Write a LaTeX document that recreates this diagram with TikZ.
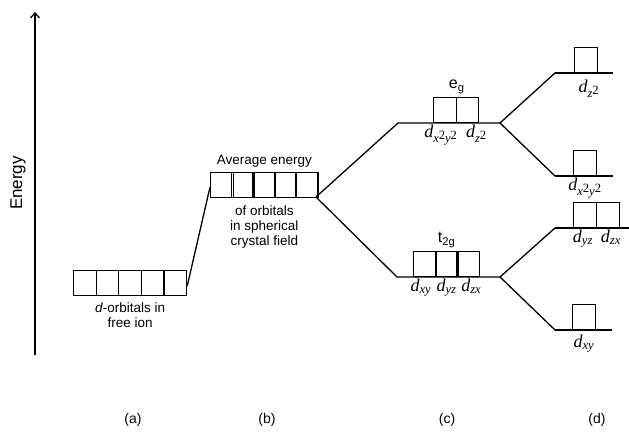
\documentclass[tikz,border=0pt]{standalone}
\usepackage{fontspec}
\setmainfont{Liberation Sans}
\newfontfamily\dfont{Liberation Serif}
\usepackage{tikz}
\usetikzlibrary{arrows.meta,positioning}
\newcommand\dorb[1]{{\dfont\itshape d\textsubscript{#1}}}
\newcommand\tw{\raisebox{2.5pt}{\upshape 2}}

\begin{document}
\begin{tikzpicture}[
      x=1pt, y=-1pt, line width=1.3pt,
      orb/.style={draw, line width=1.2pt, minimum width=22.6pt, minimum height=24.5pt,
        inner sep=0pt, anchor=south west},
      lvl/.style={line width=1.3pt},
      txt/.style={font=\fontsize{13.5}{15}\selectfont, align=center, inner sep=1pt},
      sub/.style={font=\fontsize{18}{19}\selectfont, inner sep=1pt},
      tag/.style={font=\fontsize{14}{15}\selectfont},
      sym/.style={font=\fontsize{16}{17}\selectfont, inner sep=1pt},
    ]
    \useasboundingbox (0,0) rectangle (629,435);
    % energy axis
    \coordinate (axb) at (35,355);
    \coordinate (axt) at (35,12);
    \draw[-{Straight Barb[length=5pt,width=9pt]}, line width=1.3pt] (axb) -- (axt);
    \node[font=\fontsize{17}{18}\selectfont, rotate=90] (energy) at (18,183) {Energy};
    % (a) free ion
    \foreach \i in {1,...,5}
      \node[orb] (a\i) at ({73+(\i-1)*22.6},296) {};
    \node[txt, below=5pt of a3] (alab) {\textit{d}-orbitals in\\free ion};
    % (b) spherical field
    \foreach \i in {1,...,5}
      \node[orb] (b\i) at ({210+(\i-1)*21.2},198) {};
    \node[txt, above=3pt of b3] (blab) {Average energy};
    \node[txt, below=6pt of b3] (blab2) {of orbitals\\in spherical\\crystal field};
    \draw[lvl] ([yshift=-3pt]a5.east) -- ([yshift=-2pt]b1.west);
    % (c) octahedral splitting
    \coordinate (split) at (316,197);
    \coordinate (egl) at (398,123);
    \coordinate (egr) at (500,123);
    \coordinate (tgl) at (397,277);
    \coordinate (tgr) at (500,277);
    \draw[lvl] (split) -- (egl) -- (egr);
    \draw[lvl] (split) -- (tgl) -- (tgr);
    \foreach \i in {1,2}
      \node[orb] (eg\i) at ({433+(\i-1)*22.6},123) {};
    \foreach \i in {1,2,3}
      \node[orb] (tg\i) at ({413+(\i-1)*21.7},277) {};
    \node[sym, above=2pt of eg1.north east] (eglab) {e\textsubscript{g}};
    \node[sym, above=2pt of tg2] (tglab) {t\textsubscript{2g}};
    \node[sub, below=0pt of eg1, xshift=-4pt] (dx2y2) {\dorb{x\tw y\tw}};
    \node[sub, below=0pt of eg2.south east, anchor=north, xshift=-3pt] (dz2) {\dorb{z\tw}};
    \node[sub, below=0pt of tg1, xshift=-4pt] (dxy) {\dorb{xy}};
    \node[sub, below=0pt of tg2] (dyz) {\dorb{yz}};
    \node[sub, below=0pt of tg3, xshift=3pt] (dzx) {\dorb{zx}};
    % (d) further splitting
    \coordinate (z2l) at (555,73);
    \coordinate (z2r) at (613,73);
    \coordinate (x2l) at (555,176);
    \coordinate (x2r) at (613,176);
    \coordinate (yzl) at (555,228);
    \coordinate (yzr) at (629,228);
    \coordinate (xyl) at (555,330);
    \coordinate (xyr) at (612,330);
    \draw[lvl] (z2l) -- (egr) -- (x2l);
    \draw[lvl] (z2l) -- (z2r);
    \draw[lvl] (x2l) -- (x2r);
    \draw[lvl] (yzl) -- (tgr) -- (xyl);
    \draw[lvl] (yzl) -- (yzr);
    \draw[lvl] (xyl) -- (xyr);
    \node[orb] (dz) at (574,73) {};
    \node[orb] (dx) at (573,176) {};
    \node[orb] (dyz1) at (573,228) {};
    \node[orb] (dyz2) at (596,228) {};
    \node[orb] (dxyb) at (572,330) {};
    \node[sub, below=5pt of dz, xshift=3pt] (ldz) {\dorb{z\tw}};
    \node[sub, below=0pt of dx] (ldx) {\dorb{x\tw y\tw}};
    \node[sub, below=0pt of dyz1, xshift=-2pt] (ldyz) {\dorb{yz}};
    \node[sub, below=0pt of dyz2, xshift=3pt] (ldzx) {\dorb{zx}};
    \node[sub, below=3pt of dxyb] (ldxy) {\dorb{xy}};
    % panel tags
    \node[tag] (pa) at (133,420) {(a)};
    \node[tag] (pb) at (267,420) {(b)};
    \node[tag] (pc) at (447,420) {(c)};
    \node[tag] (pd) at (597,420) {(d)};
\end{tikzpicture}
\end{document}
